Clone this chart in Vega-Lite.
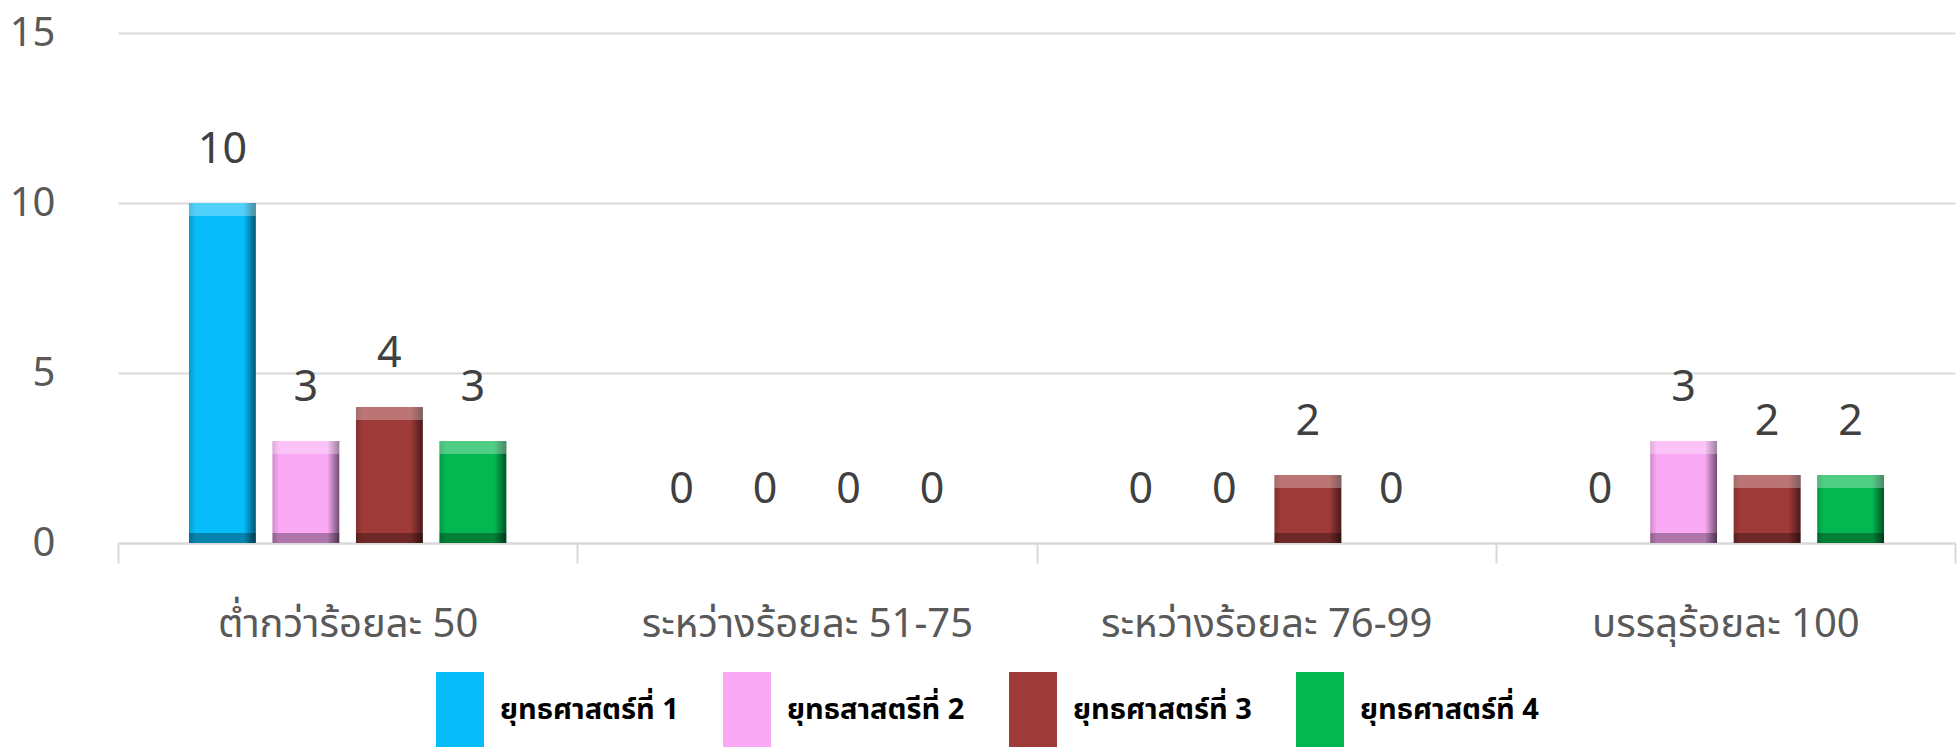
{
  "$schema": "https://vega.github.io/schema/vega-lite/v6.json",
  "width": 1837,
  "height": 510,
  "autosize": {"type": "none"},
  "padding": {"left": 118, "top": 33, "right": 4, "bottom": 204},
  "background": "white",
  "config": {
    "view": {"stroke": null},
    "font": "Noto Sans, Noto Sans Thai, sans-serif"
  },
  "data": {
    "values": [
      {"category": "ต่ำกว่าร้อยละ 50", "series": "ยุทธศาสตร์ที่ 1", "value": 10},
      {"category": "ต่ำกว่าร้อยละ 50", "series": "ยุทธสาสตรีที่ 2", "value": 3},
      {"category": "ต่ำกว่าร้อยละ 50", "series": "ยุทธศาสตร์ที่ 3", "value": 4},
      {"category": "ต่ำกว่าร้อยละ 50", "series": "ยุทธศาสตร์ที่ 4", "value": 3},
      {"category": "ระหว่างร้อยละ 51-75", "series": "ยุทธศาสตร์ที่ 1", "value": 0},
      {"category": "ระหว่างร้อยละ 51-75", "series": "ยุทธสาสตรีที่ 2", "value": 0},
      {"category": "ระหว่างร้อยละ 51-75", "series": "ยุทธศาสตร์ที่ 3", "value": 0},
      {"category": "ระหว่างร้อยละ 51-75", "series": "ยุทธศาสตร์ที่ 4", "value": 0},
      {"category": "ระหว่างร้อยละ 76-99", "series": "ยุทธศาสตร์ที่ 1", "value": 0},
      {"category": "ระหว่างร้อยละ 76-99", "series": "ยุทธสาสตรีที่ 2", "value": 0},
      {"category": "ระหว่างร้อยละ 76-99", "series": "ยุทธศาสตร์ที่ 3", "value": 2},
      {"category": "ระหว่างร้อยละ 76-99", "series": "ยุทธศาสตร์ที่ 4", "value": 0},
      {"category": "บรรลุร้อยละ 100", "series": "ยุทธศาสตร์ที่ 1", "value": 0},
      {"category": "บรรลุร้อยละ 100", "series": "ยุทธสาสตรีที่ 2", "value": 3},
      {"category": "บรรลุร้อยละ 100", "series": "ยุทธศาสตร์ที่ 3", "value": 2},
      {"category": "บรรลุร้อยละ 100", "series": "ยุทธศาสตร์ที่ 4", "value": 2}
    ]
  },
  "encoding": {
    "x": {
      "field": "category",
      "type": "nominal",
      "sort": null,
      "scale": {"paddingInner": 0, "paddingOuter": 0},
      "axis": {
        "title": null,
        "labelAngle": 0,
        "labelFontSize": 40,
        "labelColor": "#595959",
        "labelPadding": 41,
        "labelLimit": 700,
        "domainColor": "#D9D9D9",
        "domainWidth": 2,
        "tickColor": "#D9D9D9",
        "tickWidth": 2,
        "tickSize": 20,
        "tickBand": "extent"
      }
    },
    "xOffset": {
      "field": "series",
      "type": "nominal",
      "sort": null,
      "scale": {"paddingInner": 0.2, "paddingOuter": 0.85}
    }
  },
  "layer": [
    {
      "mark": {"type": "bar"},
      "encoding": {
        "y": {
          "field": "value",
          "type": "quantitative",
          "stack": null,
          "scale": {"domain": [0, 15], "nice": false},
          "axis": {
            "title": null,
            "values": [0, 5, 10, 15],
            "labelFontSize": 40,
            "labelColor": "#595959",
            "labelPadding": 63,
            "ticks": false,
            "domain": false,
            "gridColor": "#D9D9D9",
            "gridWidth": 2
          }
        },
        "color": {
          "field": "series",
          "type": "nominal",
          "sort": null,
          "scale": {"range": ["#06BCF9", "#FAA9F5", "#9E3A38", "#03B851"]},
          "legend": {
            "title": null,
            "orient": "none",
            "direction": "horizontal",
            "legendX": 318,
            "legendY": 639,
            "symbolType": "M-1,-1H0.28V1H-1Z",
            "symbolSize": 5625,
            "symbolStrokeWidth": 0,
            "labelFontSize": 29,
            "labelFontWeight": "bold",
            "labelColor": "black",
            "labelOffset": -11,
            "columnPadding": 44,
            "labelLimit": 400,
            "encode": {
              "symbols": {
                "update": {
                  "fill": {"signal": "datum.value === 'ยุทธศาสตร์ที่ 1' ? '#00B0F0' : datum.value === 'ยุทธสาสตรีที่ 2' ? '#FF66FF' : datum.value === 'ยุทธศาสตร์ที่ 3' ? '#953735' : '#00B050'"},
                  "stroke": {"value": "transparent"},
                  "opacity": {"value": 1}
                }
              }
            }
          }
        }
      }
    },
    {
      "transform": [{"filter": "datum.value > 0"}],
      "mark": {
        "type": "bar",
        "fill": {
          "gradient": "linear",
          "x1": 0, "x2": 1, "y1": 0, "y2": 0,
          "stops": [
            {"offset": 0, "color": "rgba(0,0,0,0.18)"},
            {"offset": 0.1, "color": "rgba(0,0,0,0)"},
            {"offset": 0.82, "color": "rgba(0,0,0,0)"},
            {"offset": 1, "color": "rgba(0,0,0,0.55)"}
          ]
        }
      },
      "encoding": {
        "y": {"field": "value", "type": "quantitative", "stack": null}
      }
    },
    {
      "transform": [{"filter": "datum.value > 0"}],
      "mark": {"type": "bar", "fill": "white", "opacity": 0.3, "y2Offset": 13},
      "encoding": {
        "y": {"field": "value", "type": "quantitative", "stack": null},
        "y2": {"field": "value"}
      }
    },
    {
      "transform": [{"filter": "datum.value > 0"}],
      "mark": {"type": "bar", "fill": "black", "opacity": 0.3, "y2Offset": -10},
      "encoding": {
        "y": {"datum": 0, "type": "quantitative"},
        "y2": {"datum": 0}
      }
    },
    {
      "mark": {"type": "text", "fontSize": 43, "color": "#404040", "baseline": "alphabetic", "dy": -40},
      "encoding": {
        "y": {"field": "value", "type": "quantitative", "stack": null},
        "text": {"field": "value", "type": "quantitative"}
      }
    }
  ]
}
